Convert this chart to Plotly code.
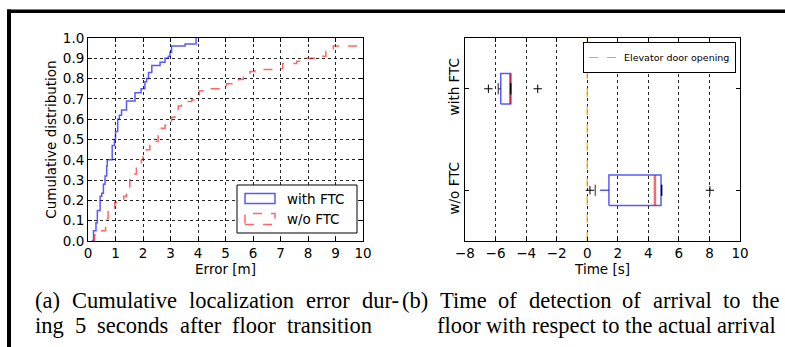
import plotly.graph_objects as go

# ---------------- data ----------------
# (a) cumulative localization error (step CDF vertices)
ftc_err = [0.13, 0.20, 0.29, 0.34, 0.44, 0.50, 0.56, 0.62, 0.68, 0.70, 0.88, 0.96, 1.00, 1.08, 1.14,
           1.22, 1.40, 1.71, 1.93, 2.07, 2.13, 2.20, 2.32, 2.62, 2.80, 2.92, 2.98, 3.04, 3.53, 3.93]
ftc_cdf = [0.00, 0.05, 0.09, 0.15, 0.22, 0.235, 0.28, 0.32, 0.37, 0.40, 0.47, 0.50, 0.54, 0.60, 0.62,
           0.645, 0.69, 0.73, 0.75, 0.785, 0.80, 0.83, 0.865, 0.88, 0.90, 0.91, 0.93, 0.96, 0.97, 1.00]
noftc_err = [0.18, 0.24, 0.36, 0.64, 0.73, 0.97, 1.03, 1.30, 1.40, 1.52, 1.64, 1.76, 1.94, 2.00, 2.13,
             2.25, 2.37, 2.55, 2.67, 2.80, 2.98, 3.04, 3.16, 3.28, 3.40, 3.58, 3.77, 3.95, 4.05, 4.44,
             4.80, 5.04, 5.30, 5.47, 5.65, 5.89, 6.07, 6.98, 7.08, 7.59, 7.95, 8.44, 8.65, 8.92, 10.0]
noftc_cdf = [0.00, 0.03, 0.05, 0.11, 0.145, 0.19, 0.20, 0.22, 0.25, 0.31, 0.33, 0.365, 0.40, 0.415, 0.45,
             0.47, 0.49, 0.53, 0.555, 0.57, 0.59, 0.61, 0.64, 0.665, 0.68, 0.687, 0.695, 0.70, 0.74, 0.75,
             0.765, 0.775, 0.785, 0.795, 0.825, 0.835, 0.845, 0.85, 0.875, 0.885, 0.90, 0.91, 0.935, 0.96, 0.96]

# (b) time of detection of arrival (box plot statistics)
groups = ["with FTC", "w/o FTC"]
group_pos = [2, 1]
q1 = [-5.66, 1.42]
median = [-5.04, 4.43]
q3 = [-5.01, 4.83]
whisker_lo = [-5.82, 0.53]
whisker_hi = [-5.01, 4.87]
fliers = [[-6.47, -3.24], [0.18, 8.03]]
door_opening = 0.0

x_ticks_a = list(range(0, 11))
y_ticks_a = [i / 10 for i in range(0, 11)]
x_ticks_b = list(range(-8, 11, 2))

caption_a = ["(a) Cumulative localization error dur-", "ing 5 seconds after floor transition"]
caption_b = ["(b) Time of detection of arrival to the", "floor with respect to the actual arrival"]

# ---------------- layout helpers ----------------
W, H = 785, 347
L, R, T, B = 88, 45, 38, 106
PW, PH = W - L - R, H - T - B


def px(x):
    return (x - L) / PW


def py(y):
    return (H - B - y) / PH


FONT = "DejaVu Sans"
FS = 13.5
BLUE = "rgba(0,0,255,0.65)"
RED = "rgba(255,0,0,0.6)"

fig = go.Figure()

# (a) CDF curves
fig.add_trace(go.Scatter(x=ftc_err, y=ftc_cdf, mode="lines", line=dict(color=BLUE, width=1.5, shape="hv"),
                         name="with FTC", showlegend=False, xaxis="x", yaxis="y", cliponaxis=False))
fig.add_trace(go.Scatter(x=noftc_err, y=noftc_cdf, mode="lines",
                         line=dict(color=RED, width=1.5, shape="hv", dash="dash"),
                         name="w/o FTC", showlegend=False, xaxis="x", yaxis="y"))

# (b) elevator door opening line
fig.add_trace(go.Scatter(x=[door_opening, door_opening], y=[0.5, 2.5], mode="lines",
                         line=dict(color="#ffa500", width=1.2, dash="dash"),
                         name="Elevator door opening", showlegend=True, xaxis="x2", yaxis="y2"))

# (b) boxes
hw, cw = 0.15, 0.055
for i, g in enumerate(groups):
    p = group_pos[i]
    fig.add_trace(go.Scatter(x=[q1[i], whisker_lo[i]], y=[p, p], mode="lines",
                             line=dict(color=BLUE, width=1.5, dash="dash"),
                             showlegend=False, xaxis="x2", yaxis="y2"))
    fig.add_trace(go.Scatter(x=[q3[i], whisker_hi[i]], y=[p, p], mode="lines",
                             line=dict(color=BLUE, width=1.5, dash="dash"),
                             showlegend=False, xaxis="x2", yaxis="y2"))
    fig.add_trace(go.Scatter(x=[q1[i], q3[i], q3[i], q1[i], q1[i]],
                             y=[p - hw, p - hw, p + hw, p + hw, p - hw], mode="lines",
                             line=dict(color=BLUE, width=1.5),
                             showlegend=False, xaxis="x2", yaxis="y2"))
    fig.add_trace(go.Scatter(x=[median[i], median[i]], y=[p - hw, p + hw], mode="lines",
                             line=dict(color=RED, width=2.5),
                             showlegend=False, xaxis="x2", yaxis="y2"))
    for k, wv in enumerate((whisker_lo[i], whisker_hi[i])):
        fig.add_trace(go.Scatter(x=[wv, wv], y=[p - cw, p + cw], mode="lines",
                                 line=dict(color="black" if k else "rgba(0,0,0,0.6)", width=1.5),
                                 showlegend=False, xaxis="x2", yaxis="y2"))
    fig.add_trace(go.Scatter(x=fliers[i], y=[p] * len(fliers[i]), mode="markers",
                             marker=dict(symbol="cross-thin", size=6, color="black",
                                         line=dict(color="black", width=1)),
                             showlegend=False, xaxis="x2", yaxis="y2"))

axis_common = dict(showline=True, linecolor="black", linewidth=1, mirror="ticks", ticks="inside",
                   ticklen=4, tickcolor="black", showgrid=True, gridcolor="rgba(0,0,0,0.85)",
                   griddash="dot", gridwidth=1, zeroline=False,
                   tickfont=dict(family=FONT, size=FS, color="black"))

fig.update_layout(
    width=W, height=H, margin=dict(l=L, r=R, t=T, b=B, autoexpand=False),
    paper_bgcolor="white", plot_bgcolor="white",
    xaxis=dict(domain=[0, 275 / PW], range=[0, 10], tickvals=x_ticks_a,
               title=dict(text="Error [m]", font=dict(family=FONT, size=FS, color="black"), standoff=3),
               **axis_common),
    yaxis=dict(domain=[0, 1], range=[0, 1], tickvals=y_ticks_a, tickformat=".1f",
               title=dict(text="Cumulative distribution", font=dict(family=FONT, size=FS, color="black"),
                          standoff=3),
               **axis_common),
    xaxis2=dict(domain=[(465 - L) / PW, 1], range=[-8, 10], tickvals=x_ticks_b, anchor="y2",
                title=dict(text="Time [s]", font=dict(family=FONT, size=FS, color="black"), standoff=3),
                **axis_common),
    yaxis2=dict(domain=[0, 1], range=[0.5, 2.5], anchor="x2",
                **{**axis_common, "showgrid": False, "tickangle": -90},
                tickvals=group_pos, ticktext=groups),
    legend=dict(x=px(736), xanchor="right", y=py(42), yanchor="top", bgcolor="white",
                bordercolor="black", borderwidth=1, itemwidth=30,
                font=dict(family=FONT, size=9.5, color="black"), tracegroupgap=0),
    showlegend=True,
)

shapes = []
# figure frame (top and left black bars)
shapes.append(dict(type="rect", xref="paper", yref="paper", x0=px(7), x1=px(785), y0=py(13), y1=py(9.5),
                   fillcolor="black", line=dict(width=0), layer="above"))
shapes.append(dict(type="rect", xref="paper", yref="paper", x0=px(7), x1=px(11), y0=py(347), y1=py(9.5),
                   fillcolor="black", line=dict(width=0), layer="above"))
# manual legend for (a)
shapes.append(dict(type="rect", xref="paper", yref="paper", x0=px(237), x1=px(357), y0=py(233), y1=py(185),
                   fillcolor="white", line=dict(color="black", width=1), layer="above"))
shapes.append(dict(type="rect", xref="paper", yref="paper", x0=px(245), x1=px(275), y0=py(203.5),
                   y1=py(193.5), fillcolor="rgba(0,0,0,0)", line=dict(color=BLUE, width=1.5), layer="above"))
shapes.append(dict(type="rect", xref="paper", yref="paper", x0=px(245), x1=px(275), y0=py(224.5),
                   y1=py(213.5), fillcolor="rgba(0,0,0,0)", line=dict(color=RED, width=1.5, dash="dash"),
                   layer="above"))
fig.update_layout(shapes=shapes)

ann = []
ann.append(dict(xref="paper", yref="paper", x=px(285), y=py(198.5), xanchor="left", yanchor="middle",
                text="with FTC", showarrow=False, font=dict(family=FONT, size=FS, color="black")))
ann.append(dict(xref="paper", yref="paper", x=px(285), y=py(219), xanchor="left", yanchor="middle",
                text="w/o FTC", showarrow=False, font=dict(family=FONT, size=FS, color="black")))

# caption: justified lines placed word by word (Times-metric widths, em/1000)
CAP_SIZE = 22.5
CAP = dict(family="Liberation Serif", size=CAP_SIZE, color="black")
TW = dict(a=444, b=500, c=444, d=500, e=444, f=333, g=500, h=500, i=278, j=278, k=500, l=278, m=778,
          n=500, o=500, p=500, q=500, r=333, s=389, t=278, u=500, v=500, w=722, x=500, y=500, z=444)
TW.update({"C": 667, "T": 611, "(": 333, ")": 333, "-": 333, "5": 500})


def word_w(wd):
    return sum(TW.get(ch, 500) for ch in wd) / 1000 * CAP_SIZE


def place_line(text, x_start, x_end, yc, justify=True):
    words = text.split(" ")
    widths = [word_w(wd) for wd in words]
    if justify and len(words) > 1:
        gap = (x_end - x_start - sum(widths)) / (len(words) - 1)
    else:
        gap = 0.25 * CAP_SIZE
    x = x_start
    for wd, wv in zip(words, widths):
        ann.append(dict(xref="paper", yref="paper", x=px(x), y=py(yc), xanchor="left", yanchor="middle",
                        text=wd, showarrow=False, font=CAP, borderpad=0, xshift=-1))
        x += wv + gap


place_line(caption_a[0], 35, 399, 300)
place_line(caption_a[1], 35, 372, 325)
place_line(caption_b[0], 402, 779, 300)
place_line(caption_b[1], 437, 776, 325)
fig.update_layout(annotations=ann)

fig.write_html("out.html", config={"displayModeBar": False},
               post_script="document.body.style.margin='0';document.body.style.overflow='hidden';"
                           "document.documentElement.style.overflow='hidden';")
